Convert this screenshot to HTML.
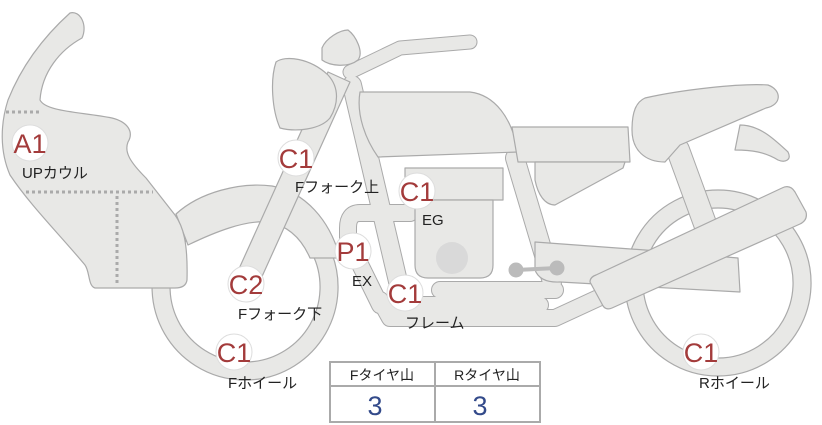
<!DOCTYPE html>
<html><head><meta charset="utf-8"><style>
html,body{margin:0;padding:0;background:#fff;}
svg{display:block;}
text{font-family:"Liberation Sans","Noto Sans CJK JP",sans-serif;}
</style></head><body>
<svg width="822" height="425" viewBox="0 0 822 425" xmlns="http://www.w3.org/2000/svg">
<g fill="#e8e8e6" stroke="#aaa" stroke-width="1.2" stroke-linejoin="round">
<path fill-rule="evenodd" d="M718,190 a93,93 0 1,0 0.1,0 Z M718,208 a75,75 0 1,0 0.1,0 Z"/>
<path fill-rule="evenodd" d="M245,194 a93,93 0 1,0 0.1,0 Z M245,212 a75,75 0 1,0 0.1,0 Z"/>
<path d="M176,214 C200,192 240,182 272,186 C305,192 330,220 340,258 L310,258 C300,235 285,225 268,222 C245,220 215,232 188,245 Z"/>
<path d="M70,13 C80,10 88,25 82,38 C60,50 42,72 40,100 C46,112 82,112 112,118 C128,122 134,132 128,142 C124,152 130,162 146,178 L175,215 C183,226 188,242 187,280 C186,287 180,288 175,288 L95,288 C88,286 90,272 85,265 C60,235 30,205 10,175 C0,152 0,125 8,100 C20,70 40,40 70,13 Z"/>
</g>
<g fill="none" stroke="#aaa" stroke-width="3" stroke-dasharray="3,3">
<path d="M6,112 L40,112"/><path d="M26,192 L153,192"/><path d="M117,196 L117,285"/>
</g>
<g fill="none" stroke-linecap="round" stroke-linejoin="round">
<g stroke="#aaa">
<path d="M350,72 L400,48 L470,42" stroke-width="15"/>
<path d="M352,85 L400,290" stroke-width="20"/>
<path d="M515,158 L552,282" stroke-width="20"/>
<path d="M678,150 L708,232" stroke-width="24"/>
<path d="M410,213 L360,213 Q348,213 348,228 L348,240 L380,305 L540,305" stroke-width="18"/>
<path d="M380,300 L390,318 L555,318 L620,288" stroke-width="18"/>
<path d="M440,290 L555,290" stroke-width="18"/>
</g>
<g stroke="#e8e8e6">
<path d="M350,72 L400,48 L470,42" stroke-width="13"/>
<path d="M352,85 L400,290" stroke-width="18"/>
<path d="M515,158 L552,282" stroke-width="18"/>
<path d="M678,150 L708,232" stroke-width="22"/>
<path d="M410,213 L360,213 Q348,213 348,228 L348,240 L380,305 L540,305" stroke-width="16"/>
<path d="M380,300 L390,318 L555,318 L620,288" stroke-width="16"/>
<path d="M440,290 L555,290" stroke-width="16"/>
</g>
</g>
<g fill="#e8e8e6" stroke="#aaa" stroke-width="1.2" stroke-linejoin="round">
<path d="M328,72 L350,82 L255,292 L233,282 Z"/>
<path d="M322,48 C326,38 340,30 348,30 C356,36 364,52 358,60 C348,68 330,66 322,60 Z"/>
<path d="M276,62 C285,55 310,58 328,75 C340,88 338,105 330,118 C320,130 295,132 280,128 C272,110 270,80 276,62 Z"/>
<path d="M360,92 L470,92 C495,95 512,118 518,152 L378,157 C366,140 356,115 360,92 Z"/>
<path d="M512,127 L628,127 L630,162 L518,162 Z"/>
<path d="M535,162 L625,162 L623,168 L555,205 C545,205 538,195 535,180 Z"/>
<path d="M740,125 C760,125 775,140 788,152 C792,160 785,163 778,160 C765,152 752,150 735,150 Z"/>
<path d="M645,98 C680,90 740,83 768,85 C782,90 782,105 766,108 L680,145 L665,162 C645,162 632,150 632,130 C632,112 636,102 645,98 Z"/>
<path d="M405,168 L503,168 L503,200 L405,200 Z"/>
<path d="M415,200 L493,200 L493,265 Q493,278 480,278 L428,278 Q415,278 415,265 Z"/>
<path d="M535,242 L645,250 L738,258 L740,292 L560,282 Q540,283 535,270 Z"/>
<path d="M596,275 L782,188 Q790,184 795,192 L806,212 Q808,220 800,224 L612,308 Q605,311 602,304 L590,282 Q590,277 596,275 Z"/>
</g>
<circle cx="452" cy="258" r="16" fill="#d9d9d9"/>
<g stroke="#bbb" fill="#bbb"><circle cx="516" cy="270" r="7"/><circle cx="557" cy="268" r="7"/><path d="M516,270 L557,268" stroke-width="4"/></g>
<g fill="#fff" stroke="#ddd" stroke-width="1">
<circle cx="30" cy="143" r="18"/><circle cx="296" cy="158" r="18"/><circle cx="417" cy="191" r="18"/>
<circle cx="353" cy="251" r="18"/><circle cx="405" cy="293" r="18"/><circle cx="246" cy="284" r="18"/>
<circle cx="234" cy="352" r="18"/><circle cx="701" cy="352" r="18"/>
</g>
<g fill="#a33b3b" font-size="27" text-anchor="middle">
<text x="30" y="153">A1</text><text x="296" y="168">C1</text><text x="417" y="201">C1</text>
<text x="353" y="261">P1</text><text x="405" y="303">C1</text><text x="246" y="294">C2</text>
<text x="234" y="362">C1</text><text x="701" y="362">C1</text>
</g>
<g fill="#222" font-size="15">
<text x="22" y="178">UPカウル</text><text x="295" y="192">Fフォーク上</text><text x="422" y="225">EG</text>
<text x="352" y="286">EX</text><text x="405" y="328">フレーム</text><text x="238" y="319">Fフォーク下</text>
<text x="228" y="388">Fホイール</text><text x="699" y="388">Rホイール</text>
</g>
<g fill="#fff" stroke="#aaa" stroke-width="2">
<rect x="330" y="362" width="210" height="60"/>
<path d="M330,386 L540,386 M435,362 L435,422"/>
</g>
<g font-size="14" fill="#222" text-anchor="middle"><text x="382" y="380">Fタイヤ山</text><text x="487" y="380">Rタイヤ山</text></g>
<g font-size="27" fill="#334a8a" text-anchor="middle"><text x="375" y="415">3</text><text x="480" y="415">3</text></g>
</svg>
</body></html>
